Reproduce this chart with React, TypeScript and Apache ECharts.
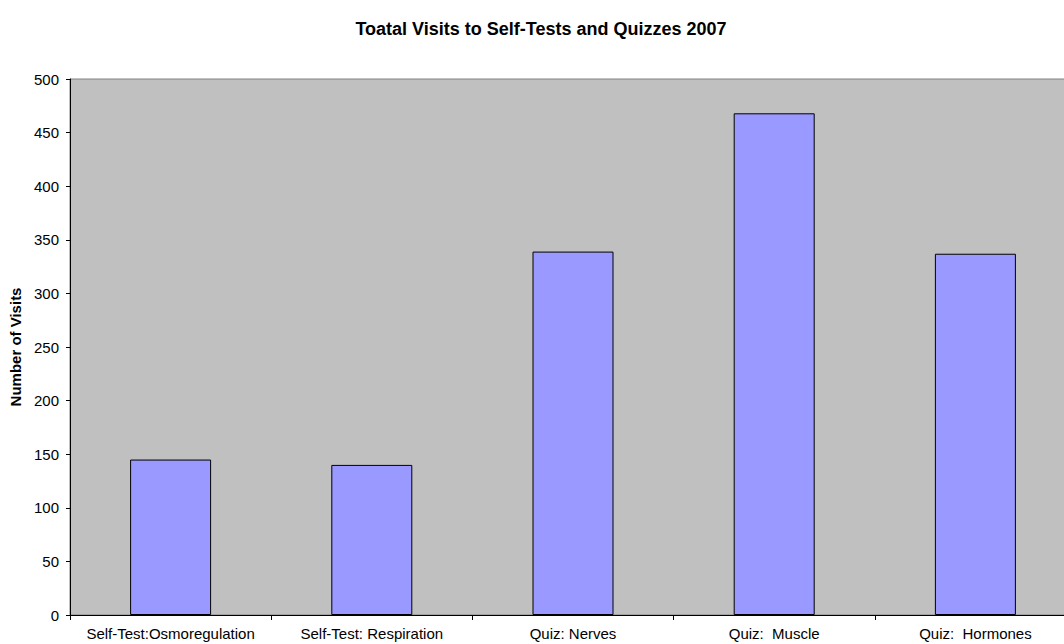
import React, { useEffect, useRef } from "react";
import * as echarts from "echarts";

const categories = [
  "Self-Test:Osmoregulation",
  "Self-Test: Respiration",
  "Quiz: Nerves",
  "Quiz:  Muscle",
  "Quiz:  Hormones",
];
const visits = [145, 140, 339, 468, 337];
const titleText = "Toatal Visits to Self-Tests and Quizzes 2007";
const yAxisName = "Number of Visits";

export default function App() {
  const ref = useRef<HTMLDivElement>(null);
  useEffect(() => {
    if (!ref.current) return;
    const chart = echarts.init(ref.current, null, { renderer: "svg" });
    const font = "Arial, 'Liberation Sans', sans-serif";
    chart.setOption({
      animation: false,
      backgroundColor: "#ffffff",
      graphic: [
        {
          type: "text",
          x: 541,
          y: 29,
          style: {
            text: titleText,
            fontFamily: font,
            fontWeight: "bold",
            fontSize: 18,
            fill: "#000",
            textAlign: "center",
            textVerticalAlign: "middle",
          },
        },
      ],
      grid: {
        left: 70,
        top: 79,
        width: 1006,
        height: 536,
        show: true,
        backgroundColor: "#c0c0c0",
        borderColor: "#808080",
        borderWidth: 1,
      },
      xAxis: {
        type: "category",
        data: categories,
        axisLine: { show: true, lineStyle: { color: "#000", width: 1 } },
        axisTick: { show: true, length: 5, lineStyle: { color: "#000" } },
        axisLabel: {
          color: "#000",
          fontFamily: font,
          fontSize: 15,
          margin: 11,
          interval: 0,
        },
        splitLine: { show: false },
      },
      yAxis: {
        type: "value",
        min: 0,
        max: 500,
        interval: 50,
        name: yAxisName,
        nameLocation: "middle",
        nameRotate: 90,
        nameGap: 46,
        nameTextStyle: {
          color: "#000",
          fontFamily: font,
          fontWeight: "bold",
          fontSize: 15,
        },
        axisLine: { show: true, lineStyle: { color: "#000", width: 1 } },
        axisTick: { show: true, length: 4, lineStyle: { color: "#000" } },
        axisLabel: {
          color: "#000",
          fontFamily: font,
          fontSize: 15,
          margin: 11,
        },
        splitLine: { show: false },
      },
      series: [
        {
          type: "bar",
          data: visits,
          barWidth: 81,
          itemStyle: {
            color: "#9999ff",
            borderColor: "#000",
            borderWidth: 1,
          },
        },
      ],
    });
    return () => chart.dispose();
  }, []);
  return (
    <div
      style={{
        position: "fixed",
        left: 0,
        top: 0,
        width: 1064,
        height: 644,
        overflow: "hidden",
        background: "#fff",
      }}
    >
      <div ref={ref} style={{ width: 1080, height: 644 }} />
    </div>
  );
}
